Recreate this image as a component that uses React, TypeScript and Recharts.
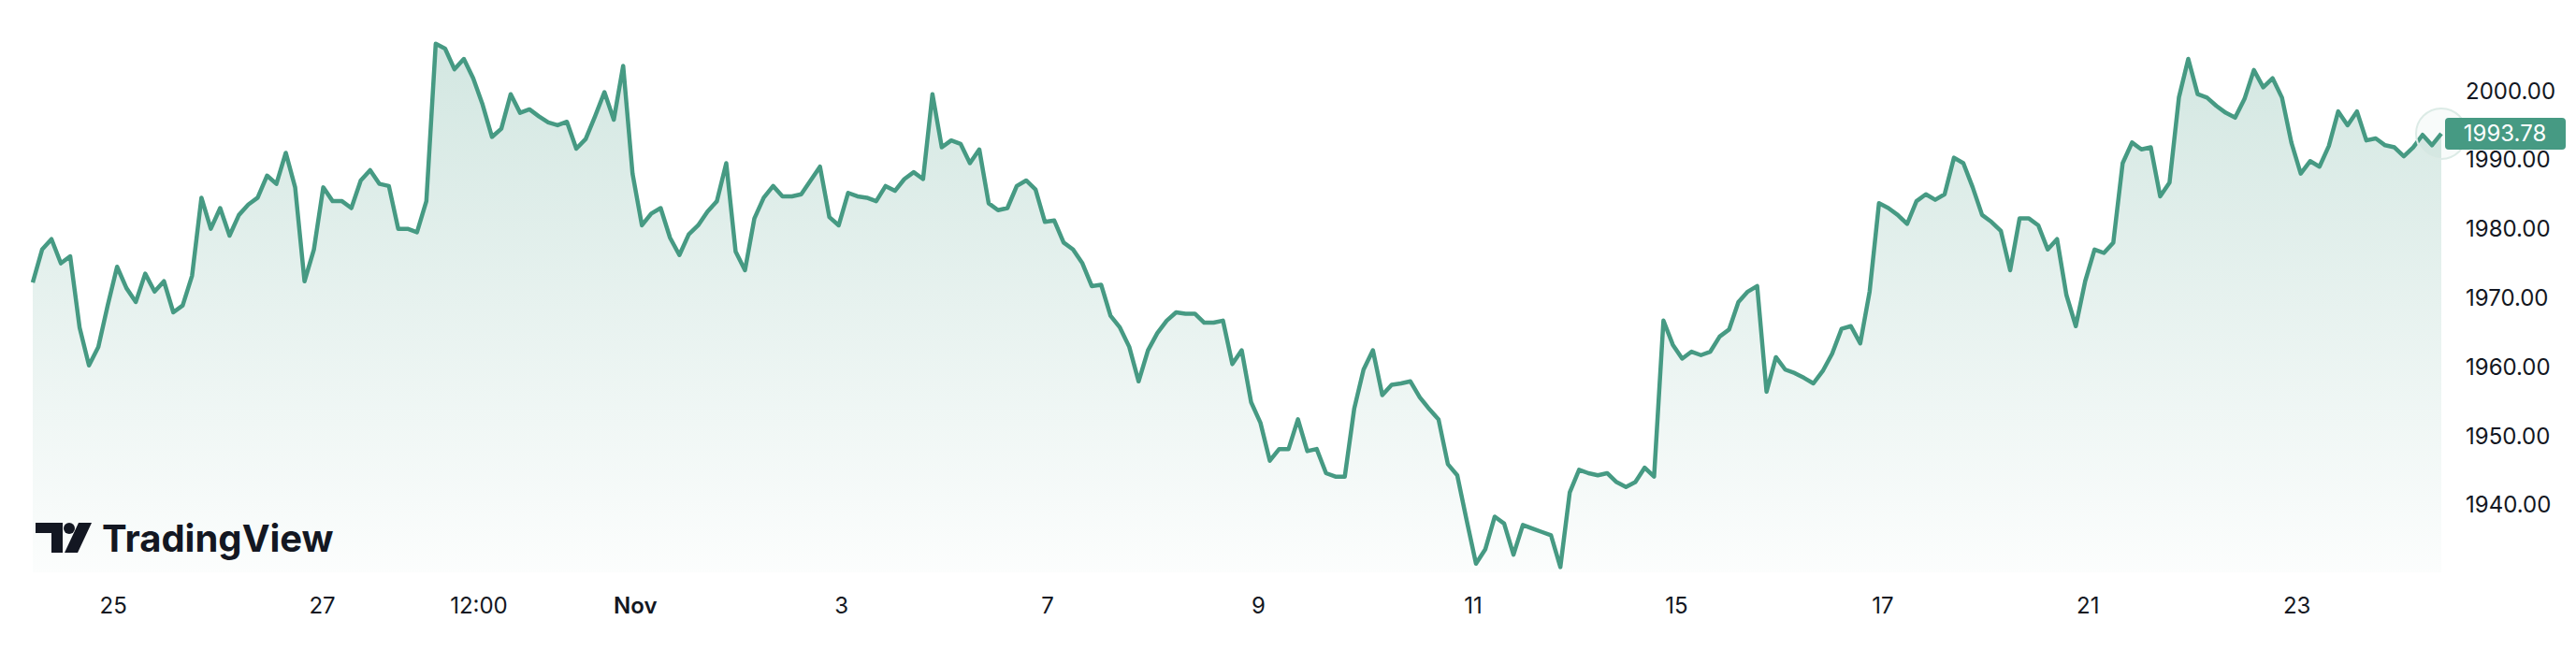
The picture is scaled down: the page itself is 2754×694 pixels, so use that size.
import React from 'react';
import { AreaChart, Area, XAxis, YAxis, ReferenceDot } from 'recharts';

const WIDTH = 2754;
const HEIGHT = 694;
const LINE = '#469a83';
const TEXT = '#131722';
const FONT = 'Inter, "Noto Sans", sans-serif';

// XAUUSD closes, one sample every ~2h
const week1 = [
  1972.2, 1977.0, 1978.5, 1975.0, 1976.0, 1965.7, 1960.2, 1962.9, 1968.9, 1974.5,
  1971.4, 1969.4, 1973.5, 1970.9, 1972.4, 1967.9, 1968.9, 1973.2, 1984.5, 1980.0,
  1983.0, 1979.0, 1982.0, 1983.5, 1984.5, 1987.7, 1986.5, 1991.0, 1986.0, 1972.4,
  1977.0, 1986.0, 1984.0, 1984.0, 1983.0, 1987.0, 1988.5, 1986.5, 1986.2, 1980.0,
  1980.0, 1979.5, 1984.0, 2006.8,
];
const week2 = [
  2006.1, 2003.1, 2004.6, 2001.8, 1998.0, 1993.3, 1994.5, 1999.5, 1996.8, 1997.3,
  1996.3, 1995.4, 1995.0, 1995.5, 1991.6, 1993.0, 1996.3, 1999.8, 1995.8, 2003.6,
  1988.0, 1980.5, 1982.2, 1983.0, 1978.7, 1976.2, 1979.2, 1980.5, 1982.5, 1984.0,
  1989.5, 1976.7, 1974.0, 1981.5, 1984.5, 1986.2, 1984.7, 1984.7, 1985.0, 1987.0,
  1989.0, 1981.7, 1980.5,
];
const week3 = [
  1985.2, 1984.7, 1984.5, 1984.0, 1986.2, 1985.5, 1987.2, 1988.2, 1987.2, 1999.5,
  1991.8, 1992.8, 1992.3, 1989.5, 1991.5, 1983.7, 1982.7, 1983.0, 1986.2, 1987.0,
  1985.7, 1981.0, 1981.2, 1978.0, 1977.0, 1975.0, 1971.7, 1971.9, 1967.4, 1965.7,
  1962.9, 1957.9, 1962.4, 1964.9, 1966.7, 1967.9, 1967.7, 1967.7, 1966.4, 1966.4,
  1966.7, 1960.4, 1962.4,
];
const week4 = [
  1954.9, 1951.9, 1946.4, 1948.1, 1948.1, 1952.4, 1947.8, 1948.1, 1944.6, 1944.1,
  1944.1, 1953.9, 1959.6, 1962.4, 1955.9, 1957.4, 1957.6, 1957.9, 1955.6, 1953.9,
  1952.4, 1945.9, 1944.3, 1937.8, 1931.5, 1933.6, 1938.3, 1937.3, 1932.8, 1937.1,
  1936.6, 1936.1, 1935.6, 1931.0, 1941.8, 1945.1, 1944.6, 1944.3, 1944.6, 1943.3,
  1942.6, 1943.3, 1945.4,
];
const week5 = [
  1944.1, 1966.7, 1963.2, 1961.2, 1962.2, 1961.7, 1962.2, 1964.4, 1965.4, 1969.4,
  1970.9, 1971.7, 1956.4, 1961.4, 1959.6, 1959.1, 1958.4, 1957.6, 1959.4, 1961.9,
  1965.5, 1965.9, 1963.4, 1970.9, 1983.7, 1983.0, 1982.0, 1980.7, 1984.0, 1985.0,
  1984.2, 1985.0, 1990.3, 1989.5, 1986.0, 1982.0, 1981.0, 1979.7, 1974.0, 1981.5,
  1981.5, 1980.5, 1977.0,
];
const week6 = [
  1978.5, 1970.4, 1965.9, 1972.4, 1977.0, 1976.5, 1978.0, 1989.5, 1992.5, 1991.5,
  1991.8, 1984.7, 1986.7, 1999.0, 2004.6, 1999.5, 1999.0, 1997.8, 1996.8, 1996.1,
  1998.8, 2003.0, 2000.5, 2001.8, 1999.0, 1992.5, 1988.0, 1989.8, 1989.0, 1992.0,
  1997.0, 1995.0, 1997.0, 1992.8, 1993.1, 1992.1, 1991.8, 1990.5, 1991.8, 1993.6,
  1992.1, 1993.78,
];

// time axis labels (positions in sample units)
const tickPositions = [8.6, 30.9, 47.6, 64.3, 86.3, 108.3, 130.8, 153.7, 175.4, 197.4, 219.3, 241.6];
const tickLabels = ['25', '27', '12:00', 'Nov', '3', '7', '9', '11', '15', '17', '21', '23'];
const priceTicks = [1940, 1950, 1960, 1970, 1980, 1990, 2000];

const prices = [...week1, ...week2, ...week3, ...week4, ...week5, ...week6];
const data = prices.map((price, i) => ({ t: i, price }));
const lastIdx = prices.length - 1;
const lastPrice = prices[lastIdx];

const TimeTick = (props: any) => {
  const { x, y, payload } = props;
  const label = tickLabels[tickPositions.indexOf(payload.value)];
  return (
    <text
      x={x}
      y={y}
      dy="0.71em"
      textAnchor="middle"
      fontFamily={FONT}
      fontSize={24}
      fontWeight={label === 'Nov' ? 600 : 400}
      fill={TEXT}
    >
      {label}
    </text>
  );
};

// pulsing ring + last price tag on the scale
const LastPrice = (props: any) => {
  const { cx, cy } = props;
  return (
    <g>
      <circle cx={cx} cy={cy} r={27} fill="rgba(70,154,131,0.04)" stroke="#dcebe6" strokeWidth={2} />
      <rect x={cx + 4} y={cy - 17} width={129} height={34} rx={4} fill={LINE} />
      <text
        x={cx + 68}
        y={cy}
        dy="0.355em"
        textAnchor="middle"
        fontFamily={FONT}
        fontSize={24}
        fill="#ffffff"
      >
        {lastPrice.toFixed(2)}
      </text>
    </g>
  );
};

const Logo = () => (
  <svg
    width={WIDTH}
    height={HEIGHT}
    style={{ position: 'absolute', left: 0, top: 0, pointerEvents: 'none' }}
  >
    <path d="M38 559 H67 V591 H55 V570 H38 Z" fill={TEXT} />
    <circle cx={74} cy={565} r={6} fill={TEXT} />
    <path d="M84 559 H98 L83 591 H69 Z" fill={TEXT} />
    <text x={109} y={590} fontFamily={FONT} fontSize={40} fontWeight={700} fill={TEXT}>
      TradingView
    </text>
  </svg>
);

export default function App() {
  return (
    <div style={{ position: 'relative', width: WIDTH, height: HEIGHT, background: '#fff' }}>
      <style>{'body{margin:0}'}</style>
      <AreaChart
        width={WIDTH}
        height={HEIGHT}
        data={data}
        margin={{ top: 20, right: 0, bottom: 0, left: 35 }}
      >
        <defs>
          <linearGradient id="fillGrad" x1="0" y1="0" x2="0" y2="1">
            <stop offset="0%" stopColor={LINE} stopOpacity={0.4} />
            <stop offset="100%" stopColor={LINE} stopOpacity={0.03} />
          </linearGradient>
        </defs>
        <XAxis
          dataKey="t"
          type="number"
          domain={[0, lastIdx]}
          ticks={tickPositions}
          interval={0}
          height={82}
          axisLine={false}
          tickLine={false}
          tickSize={0}
          tickMargin={27}
          tick={<TimeTick />}
        />
        <YAxis
          orientation="right"
          width={144}
          domain={[1930.24, 2010.43]}
          ticks={priceTicks}
          allowDataOverflow
          axisLine={false}
          tickLine={false}
          tickSize={0}
          tickMargin={26}
          tickFormatter={(v: number) => v.toFixed(2)}
          tick={{ fontSize: 24, fill: TEXT, fontFamily: FONT, textAnchor: 'start' }}
        />
        <Area
          type="linear"
          dataKey="price"
          stroke={LINE}
          strokeWidth={4.5}
          strokeLinejoin="round"
          fill="url(#fillGrad)"
          baseValue="dataMin"
          isAnimationActive={false}
          dot={false}
          activeDot={false}
        />
        <ReferenceDot x={lastIdx} y={lastPrice} shape={<LastPrice />} ifOverflow="visible" />
      </AreaChart>
      <Logo />
    </div>
  );
}
